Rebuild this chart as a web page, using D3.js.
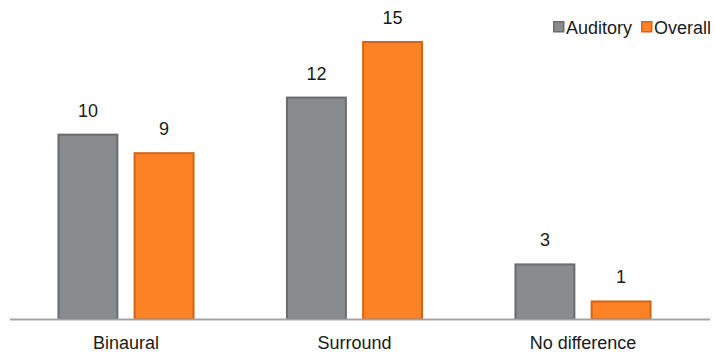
<!DOCTYPE html>
<html>
<head>
<meta charset="utf-8">
<script src="https://cdn.jsdelivr.net/npm/d3@7"></script>
<style>
  html, body { margin: 0; padding: 0; background: #fff; }
  svg { display: block; font-family: "Liberation Sans", Arial, sans-serif; }
</style>
</head>
<body>
<svg id="chart" width="716" height="354"></svg>
<script>
// Data
const categories = ["Binaural", "Surround", "No difference"];
const seriesNames = ["Auditory", "Overall"];
const auditory = [10, 12, 3];
const overall = [9, 15, 1];

const fills = { Auditory: "#8a8b8d", Overall: "#fd8224" };
const strokes = { Auditory: "#6b6c6e", Overall: "#d2631b" };
const fontSize = 18;

const svg = d3.select("#chart");
const baseY = 319;

const x = d3.scaleBand().domain(categories).range([11.75, 697.25]).paddingInner(0).paddingOuter(0);
const xs = d3.scaleBand().domain(seriesNames).range([0, x.bandwidth()]).paddingInner(0.2).paddingOuter(0.6);
const y = d3.scaleLinear().domain([0, 15]).range([baseY, 41]);

const rows = categories.map((c, i) => ({
  category: c,
  values: [
    { series: "Auditory", value: auditory[i] },
    { series: "Overall", value: overall[i] }
  ]
}));

const groups = svg.selectAll("g.group").data(rows).join("g")
  .attr("class", "group")
  .attr("transform", d => `translate(${x(d.category)},0)`);

groups.selectAll("rect").data(d => d.values).join("rect")
  .attr("x", d => xs(d.series) + 1)
  .attr("y", d => y(d.value) + 1)
  .attr("width", xs.bandwidth() - 2)
  .attr("height", d => y(0) - y(d.value) - 1)
  .attr("fill", d => fills[d.series])
  .attr("stroke", d => strokes[d.series])
  .attr("stroke-width", 2);

groups.selectAll("text.val").data(d => d.values).join("text")
  .attr("class", "val")
  .attr("x", d => xs(d.series) + xs.bandwidth() / 2)
  .attr("y", d => y(d.value) - 17)
  .attr("text-anchor", "middle")
  .attr("font-size", fontSize)
  .attr("fill", "#1a1a1a")
  .text(d => d.value);

// Category axis
const axis = svg.append("g").attr("transform", `translate(0,${baseY})`)
  .call(d3.axisBottom(x).tickSize(0));
axis.select(".domain").remove();
axis.selectAll("text")
  .attr("y", 30).attr("dy", null)
  .attr("font-size", fontSize).attr("fill", "#1a1a1a")
  .attr("font-family", "Liberation Sans, Arial, sans-serif");
svg.append("line")
  .attr("x1", 10).attr("x2", 710)
  .attr("y1", baseY + 0.5).attr("y2", baseY + 0.5)
  .attr("stroke", "#a3a3a3").attr("stroke-width", 2);

// Legend
const legendItems = [
  { name: "Auditory", x: 553 },
  { name: "Overall", x: 641 }
];
const lg = svg.selectAll("g.legend").data(legendItems).join("g")
  .attr("class", "legend")
  .attr("transform", d => `translate(${d.x},21)`);
lg.append("rect")
  .attr("x", 0.75).attr("y", 0.75).attr("width", 10).attr("height", 10)
  .attr("fill", d => fills[d.name]).attr("stroke", d => strokes[d.name]).attr("stroke-width", 1.5);
lg.append("text")
  .attr("x", 13).attr("y", 13)
  .attr("font-size", fontSize).attr("fill", "#1a1a1a")
  .text(d => d.name);
</script>
</body>
</html>
